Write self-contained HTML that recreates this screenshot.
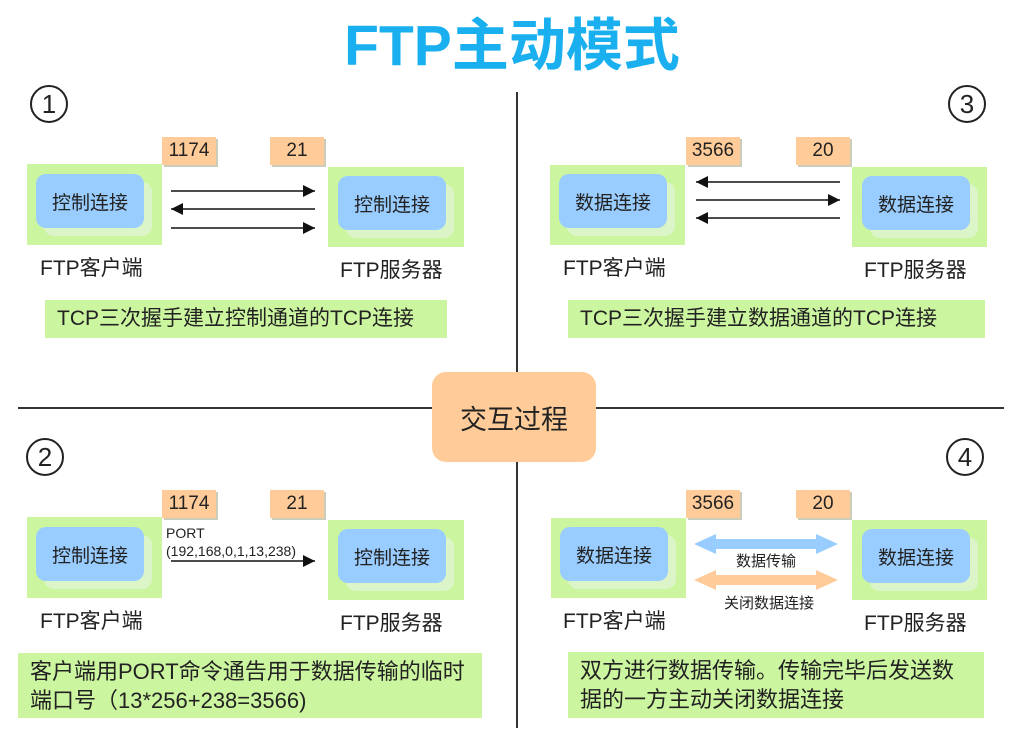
<!DOCTYPE html>
<html><head><meta charset="utf-8"><style>
body{margin:0;width:1024px;height:735px;background:#fff;position:relative;overflow:hidden;font-family:"Liberation Sans","Noto Sans CJK SC",sans-serif;color:#222}
.a{position:absolute}
.g{position:absolute;background:#ccf5a0}
.b{position:absolute;background:#99ccff;border-radius:10px;font-size:19px;display:flex;align-items:center;justify-content:center;box-shadow:8px 8px 0 #dcf5c8}
.p{position:absolute;background:#ffcc99;font-size:19px;display:flex;align-items:center;justify-content:center;box-shadow:2px 2px 0 #ccb}
.l{position:absolute;font-size:21px;white-space:nowrap}
.c{position:absolute;background:#ccf5a0;font-size:21px;line-height:29px;padding-left:12px;box-sizing:border-box;white-space:nowrap}
.n{position:absolute;width:34px;height:34px;border:2px solid #222;border-radius:50%;font-size:26px;display:flex;align-items:center;justify-content:center}
</style></head><body>
<div class="a" style="left:0;top:0px;width:1024px;text-align:center;font-size:57px;font-weight:bold;color:#1ab0f0">FTP主动模式</div>
<div class="a" style="left:516px;top:92px;width:2px;height:636px;background:#333"></div>
<div class="a" style="left:18px;top:407px;width:986px;height:2px;background:#333"></div>
<div class="a" style="left:432px;top:372px;width:164px;height:90px;background:#ffcc99;border-radius:14px;font-size:27px;display:flex;align-items:center;justify-content:center">交互过程</div>
<div class="n" style="left:30px;top:85px">1</div>
<div class="n" style="left:948px;top:85px">3</div>
<div class="n" style="left:26px;top:438px">2</div>
<div class="n" style="left:946px;top:438px">4</div>

<!-- Q1 -->
<div class="p" style="left:162px;top:137px;width:54px;height:28px">1174</div>
<div class="p" style="left:270px;top:137px;width:54px;height:28px">21</div>
<div class="g" style="left:27px;top:164px;width:135px;height:81px"></div>
<div class="b" style="left:36px;top:174px;width:108px;height:54px">控制连接</div>
<div class="g" style="left:328px;top:167px;width:136px;height:80px"></div>
<div class="b" style="left:338px;top:176px;width:108px;height:54px">控制连接</div>
<div class="l" style="left:40px;top:252px">FTP客户端</div>
<div class="l" style="left:340px;top:254px">FTP服务器</div>
<div class="c" style="left:45px;top:300px;width:402px;height:38px;line-height:38px">TCP三次握手建立控制通道的TCP连接</div>
<svg class="a" style="left:165px;top:180px" width="160" height="60"><defs><marker id="m" markerWidth="8" markerHeight="8" refX="8" refY="4" orient="auto"><path d="M0,0L8,4L0,8z" fill="#111"/></marker></defs>
<line x1="6" y1="11" x2="150" y2="11" stroke="#111" stroke-width="1.5" marker-end="url(#m)"/>
<line x1="150" y1="29" x2="6" y2="29" stroke="#111" stroke-width="1.5" marker-end="url(#m)"/>
<line x1="6" y1="48" x2="150" y2="48" stroke="#111" stroke-width="1.5" marker-end="url(#m)"/></svg>

<!-- Q3 -->
<div class="p" style="left:686px;top:137px;width:54px;height:28px">3566</div>
<div class="p" style="left:796px;top:137px;width:54px;height:28px">20</div>
<div class="g" style="left:550px;top:165px;width:135px;height:80px"></div>
<div class="b" style="left:559px;top:174px;width:108px;height:54px">数据连接</div>
<div class="g" style="left:852px;top:167px;width:135px;height:80px"></div>
<div class="b" style="left:862px;top:176px;width:108px;height:54px">数据连接</div>
<div class="l" style="left:563px;top:252px">FTP客户端</div>
<div class="l" style="left:864px;top:254px">FTP服务器</div>
<div class="c" style="left:568px;top:300px;width:417px;height:38px;line-height:38px">TCP三次握手建立数据通道的TCP连接</div>
<svg class="a" style="left:690px;top:172px" width="160" height="60">
<line x1="150" y1="10" x2="6" y2="10" stroke="#111" stroke-width="1.5" marker-end="url(#m)"/>
<line x1="6" y1="28" x2="150" y2="28" stroke="#111" stroke-width="1.5" marker-end="url(#m)"/>
<line x1="150" y1="46" x2="6" y2="46" stroke="#111" stroke-width="1.5" marker-end="url(#m)"/></svg>

<!-- Q2 -->
<div class="p" style="left:162px;top:490px;width:54px;height:28px">1174</div>
<div class="p" style="left:270px;top:490px;width:54px;height:28px">21</div>
<div class="g" style="left:27px;top:517px;width:135px;height:81px"></div>
<div class="b" style="left:36px;top:527px;width:108px;height:54px">控制连接</div>
<div class="g" style="left:328px;top:520px;width:136px;height:80px"></div>
<div class="b" style="left:338px;top:529px;width:108px;height:54px">控制连接</div>
<div class="a" style="left:166px;top:524px;font-size:14px;line-height:18px">PORT<br>(192,168,0,1,13,238)</div>
<svg class="a" style="left:165px;top:553px" width="160" height="16"><line x1="6" y1="8" x2="150" y2="8" stroke="#111" stroke-width="1.5" marker-end="url(#m)"/></svg>
<div class="l" style="left:40px;top:605px">FTP客户端</div>
<div class="l" style="left:340px;top:607px">FTP服务器</div>
<div class="c" style="left:18px;top:653px;width:464px;height:65px;padding-top:4px;font-size:22px">客户端用PORT命令通告用于数据传输的临时<br>端口号（13*256+238=3566)</div>

<!-- Q4 -->
<div class="p" style="left:686px;top:490px;width:54px;height:28px">3566</div>
<div class="p" style="left:796px;top:490px;width:54px;height:28px">20</div>
<div class="g" style="left:551px;top:518px;width:135px;height:80px"></div>
<div class="b" style="left:560px;top:527px;width:108px;height:54px">数据连接</div>
<div class="g" style="left:852px;top:520px;width:135px;height:80px"></div>
<div class="b" style="left:862px;top:529px;width:108px;height:54px">数据连接</div>
<svg class="a" style="left:694px;top:533px" width="150" height="60">
<path d="M0,11L22,1V6H122V1L144,11L122,21V16H22V21z" fill="#99ccff"/>
<path d="M0,47L22,37V42H122V37L144,47L122,57V52H22V57z" fill="#ffcc99"/></svg>
<div class="a" style="left:736px;top:550px;font-size:15px">数据传输</div>
<div class="a" style="left:724px;top:592px;font-size:15px">关闭数据连接</div>
<div class="l" style="left:563px;top:605px">FTP客户端</div>
<div class="l" style="left:864px;top:607px">FTP服务器</div>
<div class="c" style="left:568px;top:652px;width:416px;height:66px;padding-top:4px;font-size:22px">双方进行数据传输。传输完毕后发送数<br>据的一方主动关闭数据连接</div>
</body></html>
